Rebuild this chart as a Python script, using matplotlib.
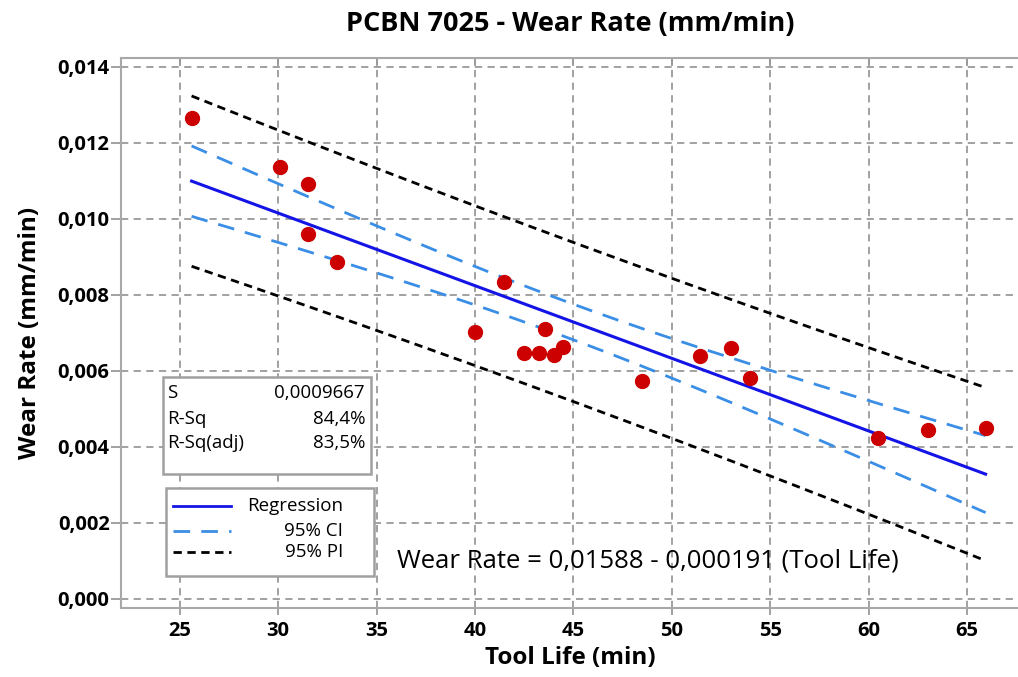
import numpy as np
import matplotlib
matplotlib.use("Agg")
import matplotlib.pyplot as plt
from matplotlib.ticker import FuncFormatter
from matplotlib.patches import Rectangle

plt.rcParams["font.family"] = ["Open Sans", "DejaVu Sans"]

# data
tool_life = [25.6, 30.1, 31.5, 31.5, 33.0, 40.0, 41.5, 42.5, 43.25, 43.55,
             44.0, 44.5, 48.5, 51.45, 53.0, 54.0, 60.5, 63.0, 65.95]
wear_rate = [0.01264, 0.01137, 0.01091, 0.00959, 0.00885, 0.00701, 0.00833,
             0.00648, 0.00648, 0.00710, 0.00642, 0.00664, 0.00572, 0.00640,
             0.00661, 0.00580, 0.00423, 0.00444, 0.00449]

# fit summary as printed on the chart
intercept = 0.01588
slope = -0.000191
s_value = 0.0009667
t_crit = 2.110  # t(0.975, df=17)
stats_labels = ["S", "R-Sq", "R-Sq(adj)"]
stats_values = ["0,0009667", "84,4%", "83,5%"]
x_ticks = [25, 30, 35, 40, 45, 50, 55, 60, 65]
y_ticks = [0.000, 0.002, 0.004, 0.006, 0.008, 0.010, 0.012, 0.014]

x = np.array(tool_life)
y = np.array(wear_rate)
n = len(x)
xbar = x.mean()
sxx = ((x - xbar) ** 2).sum()

xs = np.linspace(x.min(), x.max(), 200)
yfit = intercept + slope * xs
ci = t_crit * s_value * np.sqrt(1 / n + (xs - xbar) ** 2 / sxx)
pi = t_crit * s_value * np.sqrt(1 + 1 / n + (xs - xbar) ** 2 / sxx)

fig = plt.figure(figsize=(10.18, 6.77), dpi=100)
ax = fig.add_axes([0.1186, 0.1015, 0.8834, 0.8135])

grey = "#9a9a9a"
ax.grid(True, color=grey, linestyle=(0, (4, 3)), linewidth=1.3)
ax.set_axisbelow(True)

ci_col = "#3a8ee6"
reg_col = "#1414e6"
ax.plot(xs, yfit + pi, color="black", linestyle=(0, (3, 2)), linewidth=2)
ax.plot(xs, yfit - pi, color="black", linestyle=(0, (3, 2)), linewidth=2)
ax.plot(xs, yfit + ci, color=ci_col, linestyle=(0, (6, 4)), linewidth=2)
ax.plot(xs, yfit - ci, color=ci_col, linestyle=(0, (6, 4)), linewidth=2)
ax.plot(xs, yfit, color=reg_col, linewidth=2.2)
ax.plot(x, y, "o", color="#cc0000", markersize=10, zorder=5)

ax.set_xlim(22.0, 67.7)
ax.set_ylim(-0.000245, 0.01424)
ax.set_xticks(x_ticks)
ax.set_yticks(y_ticks)
ax.yaxis.set_major_formatter(FuncFormatter(lambda v, p: f"{v:.3f}".replace(".", ",")))
ax.tick_params(labelsize=14.5, color=grey, width=1.3)
ax.tick_params(axis="y", length=7, pad=1)
ax.tick_params(axis="x", length=5, pad=4)
for lab in ax.get_xticklabels() + ax.get_yticklabels():
    lab.set_fontweight("bold")
for sp in ax.spines.values():
    sp.set_color("#a8a8a8")
    sp.set_linewidth(1.5)

# small inward ticks on the top frame
top = ax.secondary_xaxis("top")
top.set_xticks(x_ticks)
top.tick_params(direction="in", length=6, color=grey, width=1.3, labeltop=False)
top.spines["top"].set_visible(False)

ax.set_title("PCBN 7025 - Wear Rate (mm/min)", fontsize=19.5, fontweight="bold", pad=19)
ax.set_xlabel("Tool Life (min)", fontsize=17.5, fontweight="bold", labelpad=4)
ax.set_ylabel("Wear Rate (mm/min)", fontsize=17.5, fontweight="bold", labelpad=11)

# stats box
ax.add_patch(Rectangle((0.0474, 0.2433), 0.2306, 0.1772, transform=ax.transAxes,
                       facecolor="white", edgecolor="#a0a0a0", linewidth=1.8, zorder=6))
stats_y = [0.3903, 0.3431, 0.2996]
for lab, val, yy in zip(stats_labels, stats_values, stats_y):
    ax.text(0.0518, yy, lab, transform=ax.transAxes, fontsize=13.5, va="center", zorder=7)
    ax.text(0.2717, yy, val, transform=ax.transAxes, fontsize=13.5, va="center",
            ha="right", zorder=7)

# legend box
ax.add_patch(Rectangle((0.0504, 0.0586), 0.2313, 0.1604, transform=ax.transAxes,
                       facecolor="white", edgecolor="#a0a0a0", linewidth=1.8, zorder=6))
leg_items = [("Regression", reg_col, "-", 0.1860),
             ("95% CI", ci_col, (0, (6, 4)), 0.1395),
             ("95% PI", "black", (0, (3, 2)), 0.1028)]
for lab, col, ls, yy in leg_items:
    ax.plot([0.0578, 0.1227], [yy, yy], transform=ax.transAxes, color=col,
            linestyle=ls, linewidth=2, zorder=7)
    ax.text(0.2475, yy, lab, transform=ax.transAxes, fontsize=13.5, va="center",
            ha="right", zorder=7)

ax.text(0.3072, 0.0859, "Wear Rate = 0,01588 - 0,000191 (Tool Life)",
        transform=ax.transAxes, fontsize=18.5, va="center", zorder=7)

fig.savefig("out.png", dpi=100, facecolor="white")
